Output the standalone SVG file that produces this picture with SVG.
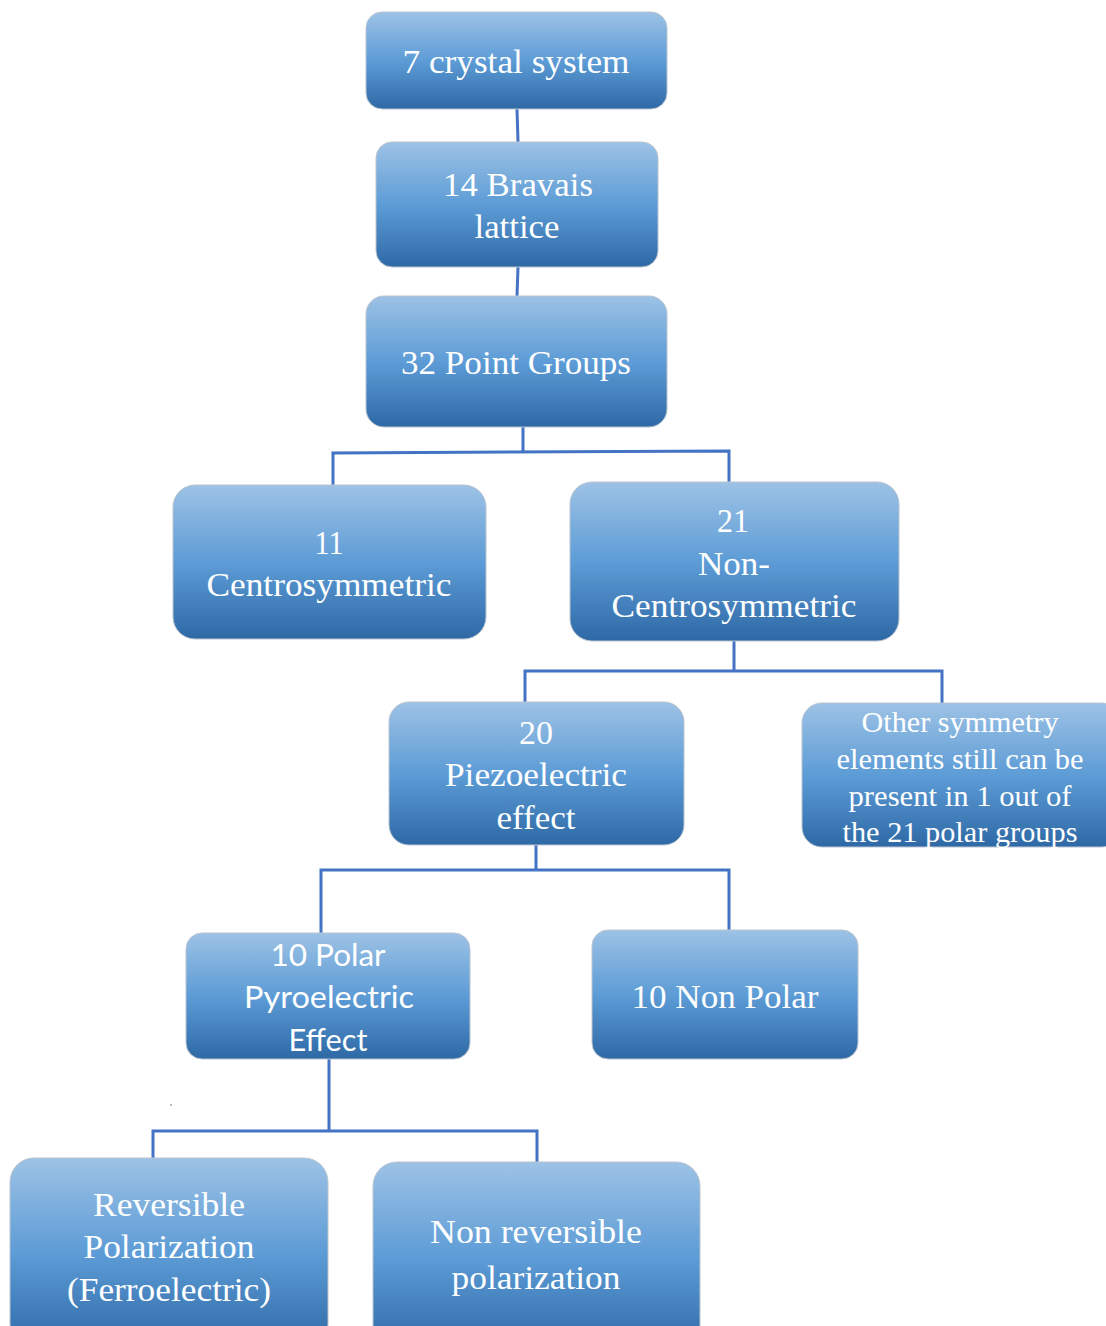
<svg xmlns="http://www.w3.org/2000/svg" width="1106" height="1326" viewBox="0 0 1106 1326">
<defs>
<linearGradient id="g" x1="0" y1="0" x2="0" y2="1">
<stop offset="0" stop-color="#9dc2e5"/>
<stop offset="0.5" stop-color="#5d9cd6"/>
<stop offset="1" stop-color="#2e69a6"/>
</linearGradient>
<style>
.box{fill:url(#g);stroke:#b9c4cf;stroke-width:1}
.t{font-family:"Liberation Serif","Times New Roman",serif;font-size:34px;fill:#ffffff;text-anchor:middle}
.s{font-family:Lato,"Liberation Sans",sans-serif;font-size:31px;fill:#ffffff;text-anchor:middle}
.o{font-size:29px}
.c{fill:none;stroke:#4472c4;stroke-width:3}
</style>
</defs>
<rect width="1106" height="1326" fill="#ffffff"/>
<g id="connectors">
<path class="c" d="M517,109 L518,142"/>
<path class="c" d="M518,267 L517,296"/>
<path class="c" d="M523,427 L523,452 M333,485 L333,453 L729,451 L729,482"/>
<path class="c" d="M734,641 L734,671 M525,702 L525,671 L942,671 L942,703"/>
<path class="c" d="M536,845 L536,870 M321,933 L321,870 L729,870 L729,930"/>
<path class="c" d="M329,1059 L329,1131 M153,1158 L153,1131 L537,1131 L537,1162"/>
</g>
<circle cx="171" cy="1105" r="0.8" fill="#666"/>
<g id="n1"><rect class="box" x="366" y="12" width="301" height="97" rx="16"/>
<text class="t" x="516" y="73" textLength="227" lengthAdjust="spacingAndGlyphs">7 crystal system</text></g>
<g id="n2"><rect class="box" x="376" y="142" width="282" height="125" rx="16"/>
<text class="t" x="518" y="196" textLength="150" lengthAdjust="spacingAndGlyphs">14 Bravais</text>
<text class="t" x="517" y="238" textLength="85" lengthAdjust="spacingAndGlyphs">lattice</text></g>
<g id="n3"><rect class="box" x="366" y="296" width="301" height="131" rx="18"/>
<text class="t" x="516" y="374" textLength="230" lengthAdjust="spacingAndGlyphs">32 Point Groups</text></g>
<g id="n4"><rect class="box" x="173" y="485" width="313" height="154" rx="22"/>
<text class="t" x="329" y="554" textLength="29" lengthAdjust="spacingAndGlyphs">11</text>
<text class="t" x="329" y="596" textLength="245" lengthAdjust="spacingAndGlyphs">Centrosymmetric</text></g>
<g id="n5"><rect class="box" x="570" y="482" width="329" height="159" rx="22"/>
<text class="t" x="733" y="532" textLength="32" lengthAdjust="spacingAndGlyphs">21</text>
<text class="t" x="734" y="575" textLength="72" lengthAdjust="spacingAndGlyphs">Non-</text>
<text class="t" x="734" y="617" textLength="245" lengthAdjust="spacingAndGlyphs">Centrosymmetric</text></g>
<g id="n6"><rect class="box" x="389" y="702" width="295" height="143" rx="20"/>
<text class="t" x="536" y="744" textLength="34" lengthAdjust="spacingAndGlyphs">20</text>
<text class="t" x="536" y="786" textLength="182" lengthAdjust="spacingAndGlyphs">Piezoelectric</text>
<text class="t" x="536" y="829" textLength="79" lengthAdjust="spacingAndGlyphs">effect</text></g>
<g id="n7"><rect class="box" x="802" y="703" width="320" height="144" rx="20"/>
<text class="t o" x="960" y="732" textLength="197" lengthAdjust="spacingAndGlyphs">Other symmetry</text>
<text class="t o" x="960" y="769" textLength="247" lengthAdjust="spacingAndGlyphs">elements still can be</text>
<text class="t o" x="960" y="806" textLength="223" lengthAdjust="spacingAndGlyphs">present in 1 out of</text>
<text class="t o" x="960" y="842" textLength="235" lengthAdjust="spacingAndGlyphs">the 21 polar groups</text></g>
<g id="n8"><rect class="box" x="186" y="933" width="284" height="126" rx="16"/>
<text class="s" x="328" y="966" textLength="115" lengthAdjust="spacingAndGlyphs">10 Polar</text>
<text class="s" x="329" y="1008" textLength="170" lengthAdjust="spacingAndGlyphs">Pyroelectric</text>
<text class="s" x="328" y="1051" textLength="79" lengthAdjust="spacingAndGlyphs">Effect</text></g>
<g id="n9"><rect class="box" x="592" y="930" width="266" height="129" rx="16"/>
<text class="t" x="725" y="1008" textLength="187" lengthAdjust="spacingAndGlyphs">10 Non Polar</text></g>
<g id="n10"><rect class="box" x="10" y="1158" width="318" height="190" rx="24"/>
<text class="t" x="169" y="1216" textLength="152" lengthAdjust="spacingAndGlyphs">Reversible</text>
<text class="t" x="169" y="1258" textLength="171" lengthAdjust="spacingAndGlyphs">Polarization</text>
<text class="t" x="169" y="1301" textLength="204" lengthAdjust="spacingAndGlyphs">(Ferroelectric)</text></g>
<g id="n11"><rect class="box" x="373" y="1162" width="327" height="190" rx="24"/>
<text class="t" x="536" y="1243" textLength="212" lengthAdjust="spacingAndGlyphs">Non reversible</text>
<text class="t" x="536" y="1289" textLength="169" lengthAdjust="spacingAndGlyphs">polarization</text></g>
</svg>
